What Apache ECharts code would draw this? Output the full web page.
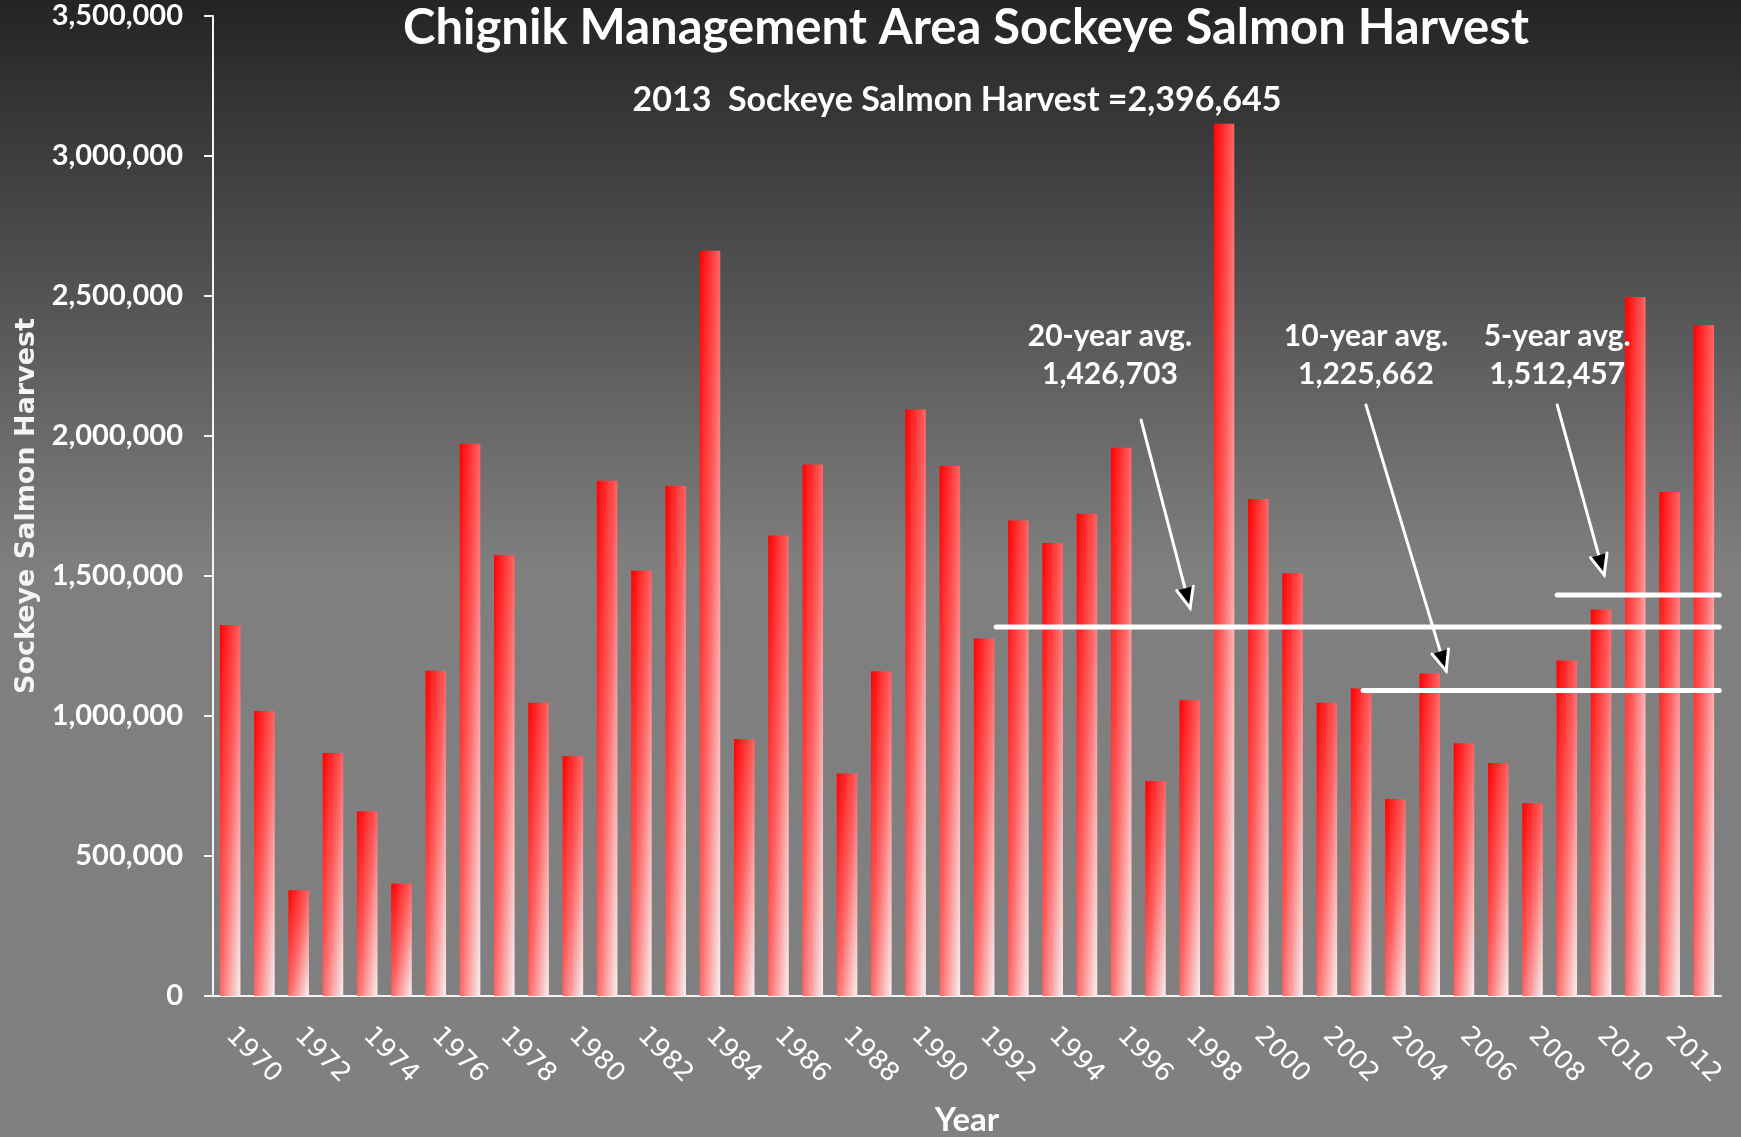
<!DOCTYPE html>
<html>
<head>
    <meta charset="utf-8">
    <title>Chignik Sockeye Harvest</title>
    <script src="https://cdn.jsdelivr.net/npm/echarts@6/dist/echarts.min.js"></script>
    <style>
        html, body { margin: 0; padding: 0; }
        #main {
            width: 1741px; height: 1137px;
            background: linear-gradient(to bottom, #242424 0%, #7f7f7f 50%, #808080 100%);
        }
    </style>
</head>
<body>
    <div id="main"></div>
    <script type="text/javascript">
        var years = ['1970', '1971', '1972', '1973', '1974', '1975', '1976', '1977', '1978', '1979',
            '1980', '1981', '1982', '1983', '1984', '1985', '1986', '1987', '1988', '1989',
            '1990', '1991', '1992', '1993', '1994', '1995', '1996', '1997', '1998', '1999',
            '2000', '2001', '2002', '2003', '2004', '2005', '2006', '2007', '2008', '2009',
            '2010', '2011', '2012', '2013'];
        var harvest = [1325000, 1018000, 378000, 868000, 660000, 402000, 1162000, 1972000, 1574000, 1047000,
            856000, 1840000, 1520000, 1822000, 2662000, 918000, 1645000, 1898000, 795000, 1160000,
            2095000, 1893000, 1277000, 1698000, 1618000, 1722000, 1958000, 768000, 1056000, 3115000,
            1775000, 1510000, 1047000, 1098000, 704000, 1152000, 903000, 832000, 688000, 1198000,
            1380000, 2496000, 1800000, 2396645];

        // averages as drawn on the slide: [from index, to index, level]
        var avgLines = [[22.35, 43.45, 1318000], [33.06, 43.45, 1091000], [38.72, 43.45, 1432000]];
        // arrows: [x1, y1, x2, y2] in (index, value)
        var avgArrows = [[26.58, 2057000, 28.01, 1386000], [33.14, 2111000, 35.48, 1161000], [38.72, 2111000, 40.09, 1504000]];
        var avgLabels = ['20-year avg.\n1,426,703', '10-year avg.\n1,225,662', '5-year avg.\n1,512,457'];
        var avgLabelPos = [[25.67, 2289000], [33.14, 2289000], [38.72, 2289000]];

        var titleText = 'Chignik Management Area Sockeye Salmon Harvest';
        var subText = '2013  Sockeye Salmon Harvest =2,396,645';

        var chartDom = document.getElementById('main');
        var myChart = echarts.init(chartDom, null, { renderer: 'canvas' });
        var option;

        var barStops = [
            { offset: 0, color: '#ff0000' },
            { offset: 0.5, color: '#ff6464' },
            { offset: 1, color: '#f7f1f1' }
        ];

        function renderBar(params, api) {
            var top = api.coord([api.value(0), api.value(1)]);
            var base = api.coord([api.value(0), 0]);
            var w = api.size([1, 0])[0] * 0.6;
            var h = base[1] - top[1];
            var k = h * h + w * w;
            // gradient whose isolines follow the anti-diagonal of the bar
            return {
                type: 'rect',
                shape: { x: top[0] - w / 2, y: top[1], width: w, height: h },
                style: {
                    fill: new echarts.graphic.LinearGradient(0, 0, 2 * h * h / k, 2 * w * w / k, barStops)
                }
            };
        }

        function renderAvgLine(params, api) {
            var p1 = api.coord([api.value(0), api.value(2)]);
            var p2 = api.coord([api.value(1), api.value(2)]);
            return {
                type: 'line',
                shape: { x1: p1[0], y1: p1[1], x2: p2[0], y2: p2[1] },
                style: { stroke: '#ffffff', lineWidth: 5, lineCap: 'round' }
            };
        }

        function renderArrow(params, api) {
            var p1 = api.coord([api.value(0), api.value(1)]);
            var p2 = api.coord([api.value(2), api.value(3)]);
            var ang = Math.atan2(p1[1] - p2[1], p1[0] - p2[0]);
            var len = 22, spread = 0.4;
            var a = [p2[0] + len * Math.cos(ang + spread), p2[1] + len * Math.sin(ang + spread)];
            var b = [p2[0] + len * Math.cos(ang - spread), p2[1] + len * Math.sin(ang - spread)];
            var st = { stroke: '#ffffff', lineWidth: 3, lineCap: 'round' };
            return {
                type: 'group',
                children: [
                    { type: 'line', shape: { x1: p1[0], y1: p1[1], x2: p2[0], y2: p2[1] }, style: st },
                    { type: 'polyline', shape: { points: [a, p2, b] }, style: st }
                ]
            };
        }

        function renderLabel(params, api) {
            var p = api.coord([api.value(0), api.value(1)]);
            return {
                type: 'text',
                x: p[0],
                y: p[1],
                style: {
                    text: avgLabels[params.dataIndex],
                    fill: '#ffffff',
                    fontFamily: 'Lato',
                    fontWeight: 'bold',
                    fontSize: 30,
                    lineHeight: 38,
                    align: 'center',
                    verticalAlign: 'middle'
                }
            };
        }

        option = {
            animation: false,
            backgroundColor: 'transparent',
            graphic: [{
                type: 'text',
                x: 966, y: 28,
                style: {
                    text: titleText, fill: '#ffffff', fontFamily: 'Lato', fontWeight: 'bold',
                    fontSize: 49, align: 'center', verticalAlign: 'middle'
                }
            }, {
                type: 'text',
                x: 957, y: 100,
                style: {
                    text: subText, fill: '#ffffff', fontFamily: 'Lato', fontWeight: 'bold',
                    fontSize: 34, align: 'center', verticalAlign: 'middle'
                }
            }],
            grid: {
                left: 213,
                right: 20,
                top: 16,
                bottom: 141,
                outerBoundsMode: 'none'
            },
            xAxis: [{
                type: 'category',
                data: years,
                boundaryGap: true,
                axisLine: { onZero: false, lineStyle: { color: '#f4f4f4', width: 2 } },
                axisTick: { interval: 0, length: 10, lineStyle: { color: '#f4f4f4', width: 2 } },
                axisLabel: {
                    interval: 1, rotate: -45, margin: 36,
                    color: '#ffffff', fontFamily: 'DejaVu Sans', fontSize: 26
                },
                name: 'Year',
                nameLocation: 'middle',
                nameGap: 108,
                nameTextStyle: { color: '#ffffff', fontFamily: 'Lato', fontWeight: 'bold', fontSize: 33 }
            }, {
                type: 'value',
                min: -0.5,
                max: 43.5,
                show: false
            }],
            yAxis: {
                type: 'value',
                min: 0,
                max: 3500000,
                interval: 500000,
                splitLine: { show: false },
                axisLine: { show: true, onZero: false, lineStyle: { color: '#f4f4f4', width: 2 } },
                axisTick: { show: true, length: 9, lineStyle: { color: '#f4f4f4', width: 2 } },
                axisLabel: {
                    margin: 30, color: '#ffffff', fontFamily: 'Lato', fontWeight: 'bold', fontSize: 29,
                    formatter: function (v) { return v.toLocaleString('en-US'); }
                },
                name: 'Sockeye Salmon Harvest',
                nameLocation: 'middle',
                nameGap: 172,
                nameTextStyle: { color: '#f4f4f4', fontFamily: 'DejaVu Sans', fontWeight: 'bold', fontSize: 27 }
            },
            series: [{
                type: 'custom',
                name: 'Harvest',
                xAxisIndex: 0,
                renderItem: renderBar,
                data: harvest.map(function (v, i) { return [i, v]; })
            }, {
                type: 'custom',
                name: 'averages',
                xAxisIndex: 1,
                renderItem: renderAvgLine,
                data: avgLines,
                z: 5
            }, {
                type: 'custom',
                name: 'arrows',
                xAxisIndex: 1,
                renderItem: renderArrow,
                data: avgArrows,
                z: 5
            }, {
                type: 'custom',
                name: 'labels',
                xAxisIndex: 1,
                renderItem: renderLabel,
                data: avgLabelPos,
                z: 5
            }]
        };

        option && myChart.setOption(option);
    </script>
</body>
</html>
